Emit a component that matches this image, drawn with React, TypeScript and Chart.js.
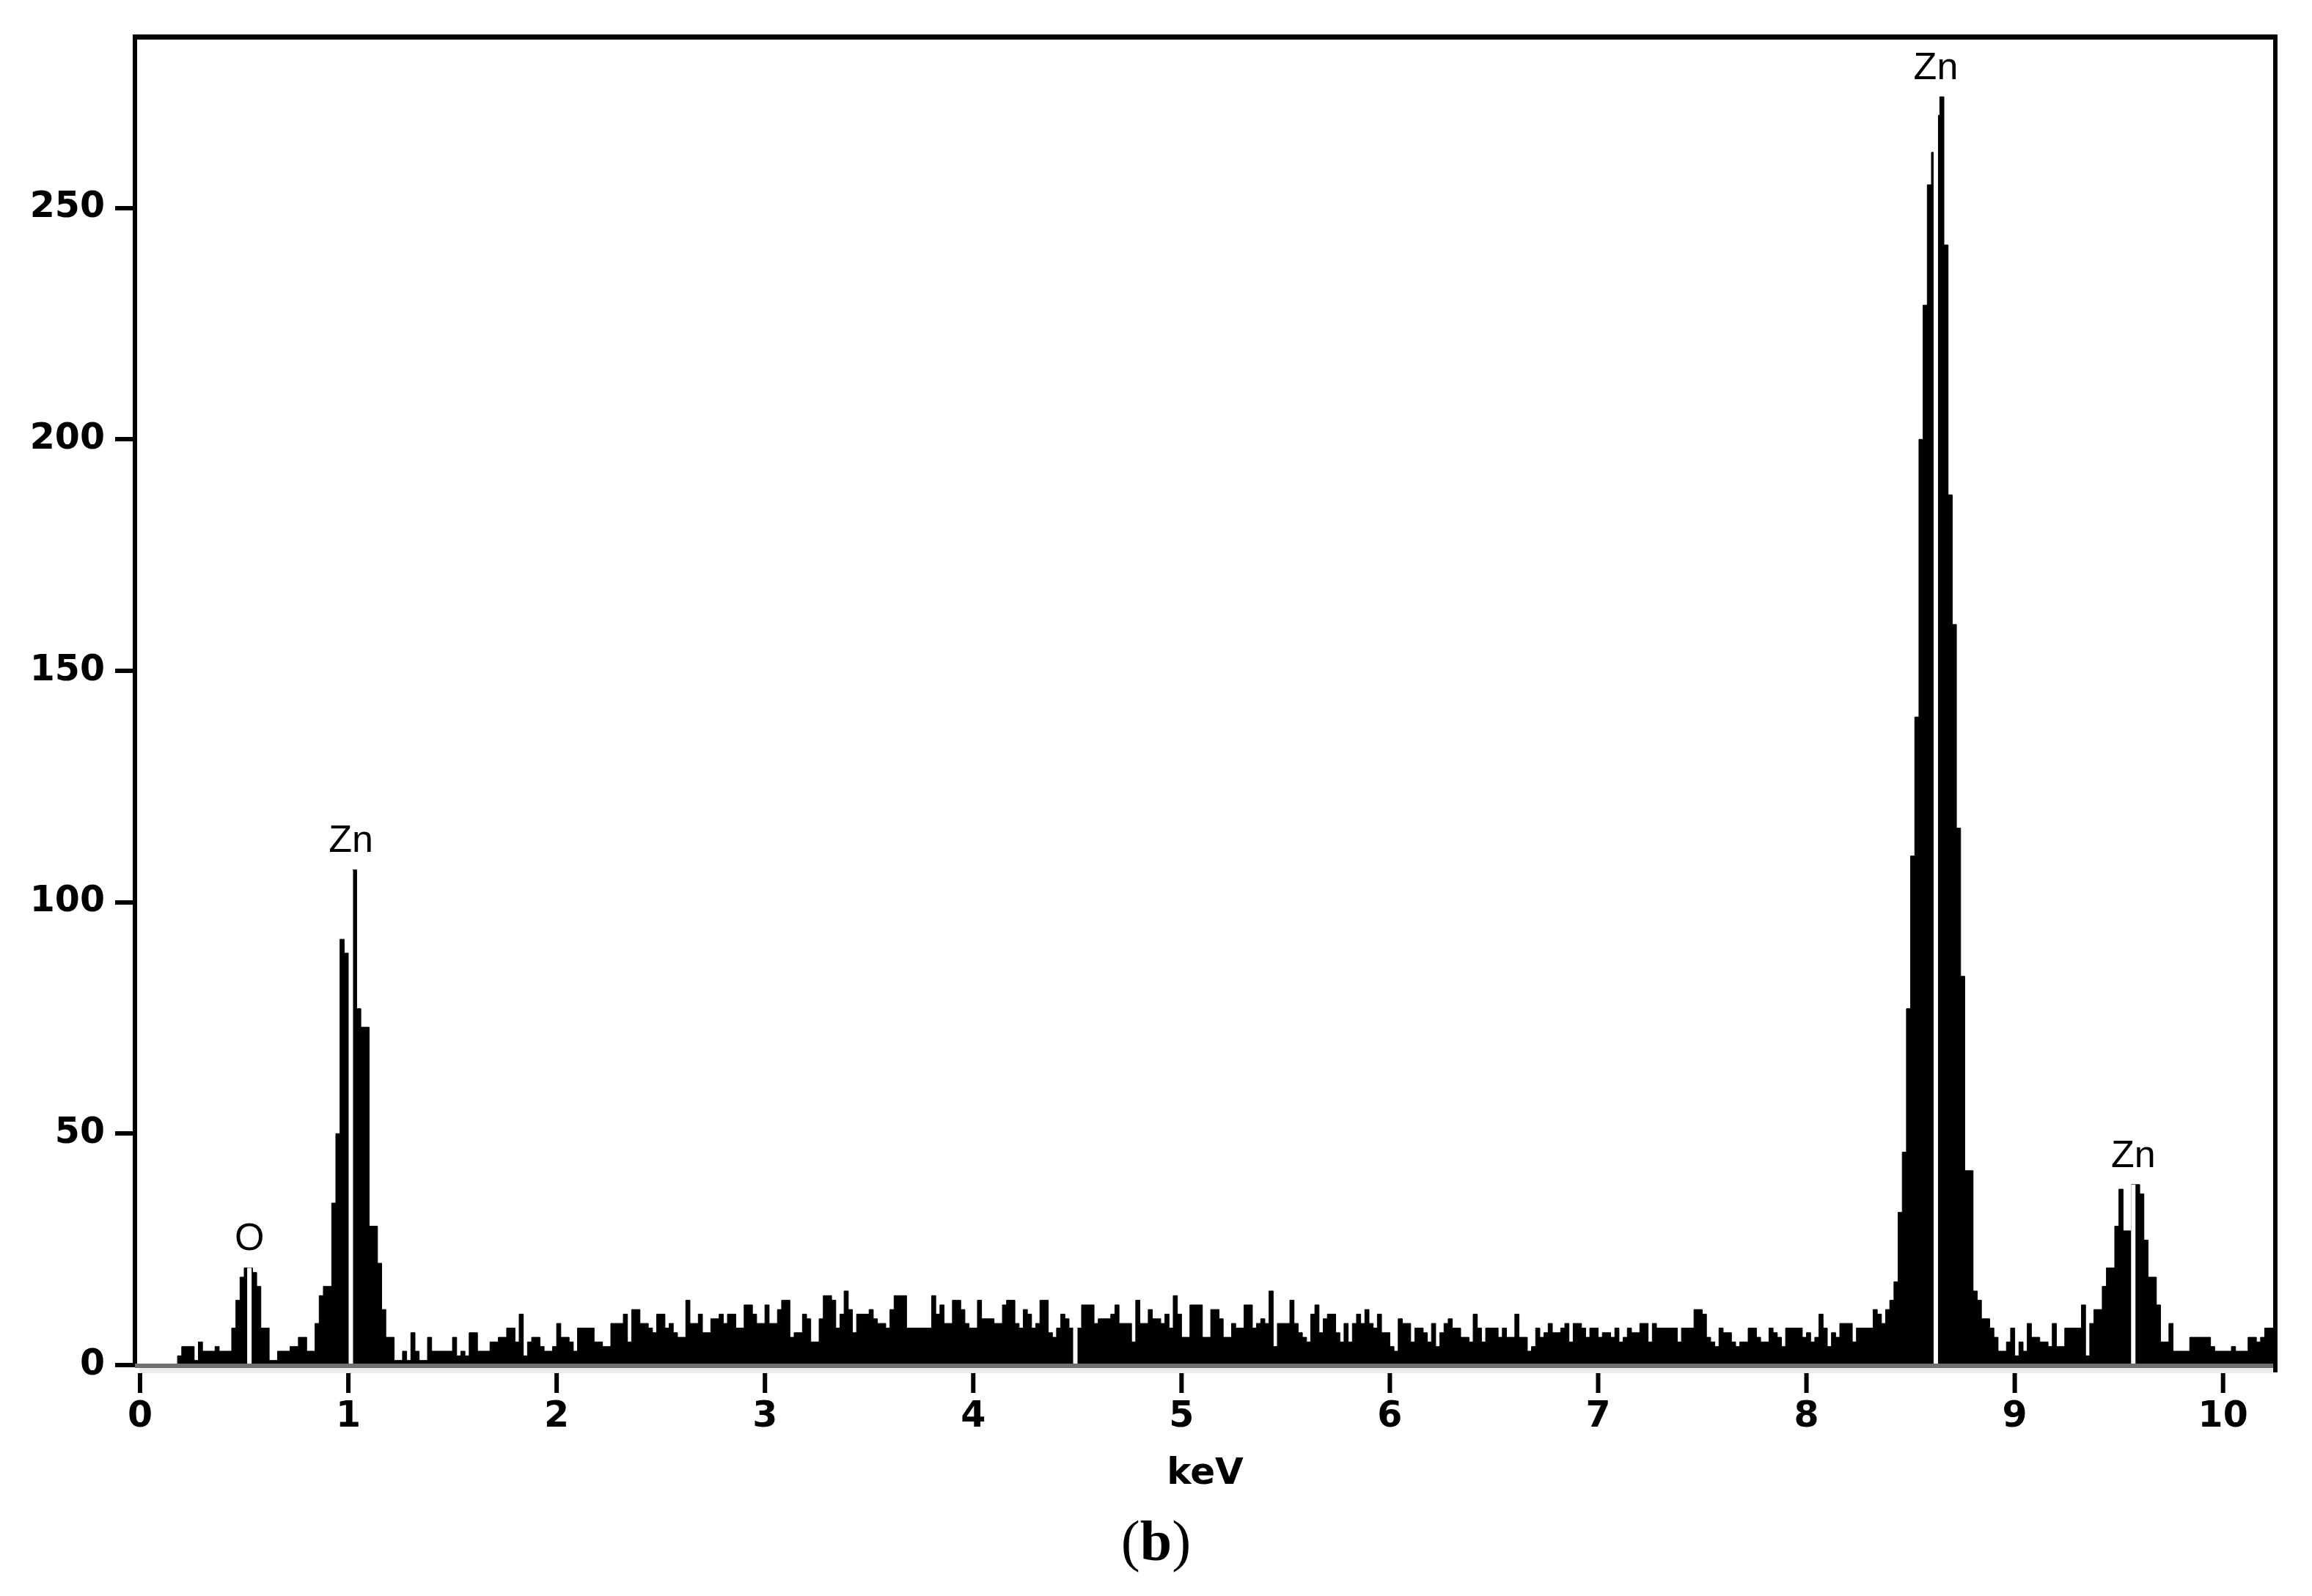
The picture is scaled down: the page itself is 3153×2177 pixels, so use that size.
import React, { useEffect, useRef } from 'react';
import { Chart, registerables } from 'chart.js';

Chart.register(...registerables);

// ---- data -------------------------------------------------------------
const CHANNEL_KEV = 0.02; // channel width (keV)

// counts, channels 0 .. 61 (0 – 1.24 keV): O K and Zn L peaks
const countsOZnL = [
  0, 0, 0, 0, 0, 0, 0, 0, 0,
  2, 4, 4, 4, 1, 5, 3, 3, 3, 4,
  3, 3, 3, 8, 14, 19, 21, 21, 20, 17,
  8, 8, 1, 1, 3, 3, 3, 4, 4, 6,
  6, 3, 3, 9, 15, 17, 17, 35, 50, 92,
  89, 89, 107, 77, 73, 73, 30, 30, 22, 12,
  6, 6, 1,
];

// channels 62 .. 149 (1.24 – 3.00 keV)
const countsBackground1 = [
  1, 3, 1, 7, 3, 1, 1, 6, 3, 3,
  3, 3, 3, 6, 2, 3, 2, 7, 7, 3,
  3, 3, 5, 5, 6, 6, 8, 8, 5, 11,
  2, 5, 6, 6, 4, 3, 3, 4, 9, 6,
  6, 5, 3, 8, 8, 8, 8, 5, 5, 4,
  4, 9, 9, 9, 11, 5, 12, 12, 9, 9,
  8, 7, 11, 11, 8, 9, 7, 6, 6, 14,
  9, 9, 11, 7, 7, 10, 10, 11, 9, 11,
  11, 8, 8, 13, 13, 11, 9, 9,
];

// channels 150 .. 237 (3.00 – 4.76 keV)
const countsBackground2 = [
  13, 9, 9, 12, 14, 14, 6, 7, 7, 11,
  10, 5, 5, 10, 15, 15, 14, 8, 11, 16,
  12, 7, 11, 11, 11, 12, 10, 9, 9, 8,
  12, 15, 15, 15, 8, 8, 8, 8, 8, 8,
  15, 11, 13, 9, 9, 14, 14, 12, 9, 8,
  8, 14, 10, 10, 10, 9, 9, 13, 14, 14,
  9, 8, 12, 11, 8, 9, 14, 14, 7, 6,
  8, 11, 10, 8, 8, 8, 13, 13, 13, 9,
  10, 10, 10, 11, 13, 9, 9, 9,
];

// channels 238 .. 325 (4.76 – 6.52 keV)
const countsBackground3 = [
  5, 14, 9, 9, 12, 10, 10, 9, 11, 8,
  15, 11, 6, 6, 13, 13, 13, 6, 6, 12,
  12, 10, 6, 6, 9, 8, 8, 13, 13, 8,
  9, 10, 9, 16, 4, 9, 9, 9, 14, 9,
  7, 6, 5, 11, 13, 7, 10, 11, 11, 7,
  5, 9, 5, 9, 11, 9, 12, 9, 8, 11,
  7, 7, 4, 3, 10, 9, 9, 5, 8, 8,
  7, 5, 9, 4, 7, 9, 10, 8, 8, 6,
  6, 5, 11, 8, 5, 8, 8, 8,
];

// channels 326 .. 412 (6.52 – 8.26 keV)
const countsBackground4 = [
  6, 8, 6, 6, 11, 6, 6, 3, 4, 8,
  6, 7, 9, 7, 7, 8, 9, 5, 9, 9,
  8, 6, 8, 8, 6, 7, 7, 6, 8, 5,
  6, 8, 7, 7, 9, 9, 5, 9, 8, 8,
  8, 8, 8, 5, 8, 8, 8, 12, 12, 11,
  6, 5, 4, 8, 7, 7, 5, 4, 5, 5,
  8, 8, 6, 5, 5, 8, 7, 6, 4, 8,
  8, 8, 8, 6, 7, 5, 6, 11, 8, 4,
  7, 6, 9, 9, 9, 5, 8,
];

// channels 413 .. 512 (8.26 – 10.26 keV): Zn K alpha / K beta
const countsZnK = [
  8, 8, 8, 12, 11, 9, 12, 14, 18, 33,
  46, 77, 110, 140, 200, 229, 255, 262, 270, 274,
  242, 188, 160, 116, 84, 42, 42, 16, 14, 10,
  10, 8, 6, 3, 3, 5, 8, 2, 5, 3,
  9, 6, 6, 5, 5, 4, 9, 4, 4, 8,
  8, 8, 8, 13, 2, 9, 12, 12, 17, 21,
  21, 30, 38, 29, 29, 39, 39, 37, 27, 19,
  19, 13, 5, 5, 9, 3, 3, 3, 3, 6,
  6, 6, 6, 6, 4, 3, 3, 3, 3, 4,
  3, 3, 3, 6, 6, 5, 6, 8, 8, 8,
];

const allCounts = [
  ...countsOZnL,
  ...countsBackground1,
  ...countsBackground2,
  ...countsBackground3,
  ...countsBackground4,
  ...countsZnK,
];

// element line markers
const markerEnergies = [0.525, 1.012, 4.49, 8.621, 9.569];
const markerLabels = ['O', 'Zn', '', 'Zn', 'Zn'];

// axes
const xTickValues = [0, 1, 2, 3, 4, 5, 6, 7, 8, 9, 10];
const yTickValues = [0, 50, 100, 150, 200, 250];
const X_MIN = -0.0246;
const X_MAX = 10.251;
const Y_MAX = 287;

const xAxisTitle = 'keV';
const panelLetter = 'b';

// ---- plugin: peak markers, axis band, frame, panel label ----------------
const decorPlugin = {
  id: 'edsDecor',
  afterDatasetsDraw(chart: any) {
    const { ctx, chartArea, scales } = chart;
    const xs = scales.x;
    const ys = scales.y;
    const y0 = ys.getPixelForValue(0);
    ctx.save();

    markerEnergies.forEach((e, k) => {
      const idx = Math.floor(e / CHANNEL_KEV + 1e-6);
      let m = 0;
      for (let i = idx - 2; i <= idx + 2; i++) {
        if (i >= 0 && i < allCounts.length) m = Math.max(m, allCounts[i]);
      }
      const px = xs.getPixelForValue(e);
      const top = ys.getPixelForValue(m);
      ctx.fillStyle = '#ffffff';
      ctx.fillRect(px - 3, top, 6, y0 - top);
      if (markerLabels[k]) {
        ctx.fillStyle = '#000000';
        ctx.font = '52px "Liberation Sans"';
        ctx.textAlign = 'center';
        ctx.textBaseline = 'alphabetic';
        ctx.fillText(markerLabels[k], px, top - 24);
      }
    });

    // x axis band (grey line with light edge)
    const w = chartArea.right - chartArea.left;
    ctx.fillStyle = '#707070';
    ctx.fillRect(chartArea.left, y0 - 2, w, 6);
    ctx.fillStyle = '#ececec';
    ctx.fillRect(chartArea.left + 6, y0 + 4, w - 10, 7);

    // x tick marks, detached below the axis
    ctx.fillStyle = '#000000';
    xTickValues.forEach((v) => {
      const px = xs.getPixelForValue(v);
      ctx.fillRect(px - 3, y0 + 11, 6, 27);
    });

    // top and right frame
    ctx.fillRect(chartArea.left - 3, chartArea.top - 3, w + 6, 7);
    ctx.fillRect(chartArea.right - 3, chartArea.top - 3, 6, y0 + 10 - (chartArea.top - 3));
    ctx.restore();
  },
  afterDraw(chart: any) {
    const ctx = chart.ctx;
    ctx.save();
    const reg = '78px "Liberation Serif"';
    const bold = 'bold 78px "Liberation Serif"';
    ctx.font = reg;
    const wl = ctx.measureText('(').width;
    const wr = ctx.measureText(')').width;
    ctx.font = bold;
    const wb = ctx.measureText(panelLetter).width;
    let x = chart.width / 2 - (wl + wb + wr) / 2;
    const yb = chart.height - 49;
    ctx.fillStyle = '#000000';
    ctx.textAlign = 'left';
    ctx.textBaseline = 'alphabetic';
    ctx.font = reg;
    ctx.fillText('(', x, yb);
    x += wl;
    ctx.font = bold;
    ctx.fillText(panelLetter, x, yb);
    x += wb;
    ctx.font = reg;
    ctx.fillText(')', x, yb);
    ctx.restore();
  },
};

const tickFont = { family: '"DejaVu Sans"', size: 49, weight: 'bold' as const };

export default function App() {
  const ref = useRef<HTMLCanvasElement>(null);

  useEffect(() => {
    if (!ref.current) return;
    const points = allCounts.map((c, i) => ({ x: (i + 0.5) * CHANNEL_KEV, y: c }));
    const chart = new Chart(ref.current, {
      type: 'line',
      data: {
        datasets: [
          {
            label: 'EDS spectrum',
            data: points,
            stepped: 'middle',
            fill: 'origin',
            backgroundColor: '#000000',
            borderColor: '#000000',
            borderWidth: 1,
            pointRadius: 0,
          },
        ],
      },
      options: {
        animation: false,
        responsive: false,
        devicePixelRatio: 1,
        events: [],
        layout: { padding: { top: 50, right: 50, bottom: 0, left: 0 } },
        plugins: {
          legend: { display: false },
          tooltip: { enabled: false },
          title: { display: false },
        },
        scales: {
          x: {
            type: 'linear',
            min: X_MIN,
            max: X_MAX,
            afterBuildTicks: (s: any) => {
              s.ticks = xTickValues.map((v) => ({ value: v }));
            },
            afterFit: (s: any) => {
              s.height = 315;
            },
            grid: { display: false, drawTicks: false },
            border: { display: false },
            ticks: {
              color: '#000000',
              font: tickFont,
              padding: 42,
              maxRotation: 0,
              autoSkip: false,
              callback: (v: any) => String(v),
            },
            title: {
              display: true,
              text: xAxisTitle,
              color: '#000000',
              font: { family: '"DejaVu Sans"', size: 50, weight: 'bold' },
              padding: { top: 0, bottom: 136 },
            },
          },
          y: {
            type: 'linear',
            min: 0,
            max: Y_MAX,
            afterBuildTicks: (s: any) => {
              s.ticks = yTickValues.map((v) => ({ value: v }));
            },
            afterFit: (s: any) => {
              s.width = 184;
            },
            grid: {
              drawOnChartArea: false,
              drawTicks: true,
              tickLength: 27,
              lineWidth: 6,
              tickWidth: 6,
              color: '#000000',
              tickColor: '#000000',
            },
            border: { display: true, color: '#000000', width: 6 },
            ticks: {
              color: '#000000',
              font: tickFont,
              padding: 14,
              callback: (v: any) => String(v),
            },
          },
        },
      },
      plugins: [decorPlugin],
    } as any);
    return () => chart.destroy();
  }, []);

  return (
    <div
      style={{
        position: 'absolute',
        left: 0,
        top: 0,
        width: 3153,
        height: 2177,
        background: '#ffffff',
      }}
    >
      <canvas ref={ref} width={3153} height={2177} style={{ display: 'block' }} />
    </div>
  );
}
